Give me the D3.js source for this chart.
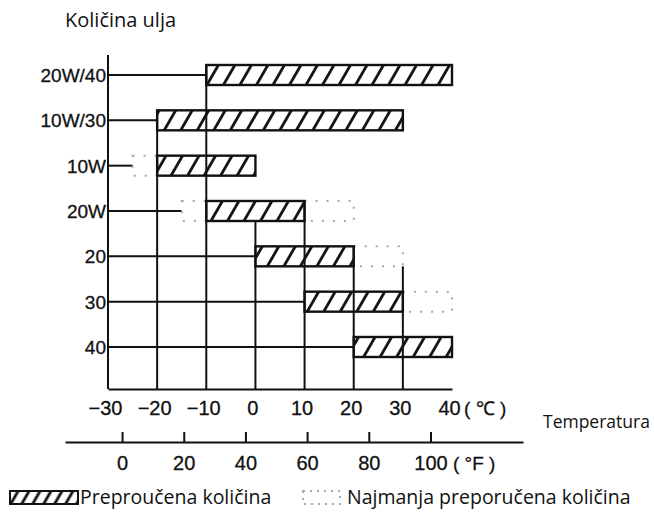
<!DOCTYPE html>
<html>
<head>
<meta charset="utf-8">
<script src="https://cdn.jsdelivr.net/npm/d3@7"></script>
<style>
  body { margin: 0; background: #fff; }
  svg { display: block; }
  .lbl { font-family: "Liberation Sans", Arial, sans-serif; fill: #111; stroke: #111; stroke-width: 0.3px; }
  .num { font-family: "Liberation Sans Narrow", "Liberation Sans", Arial, sans-serif; font-stretch: condensed; fill: #111; stroke: #111; stroke-width: 0.3px; }
  .txt { font-family: "Open Sans", "Noto Sans", sans-serif; fill: #111; }
</style>
</head>
<body>
<svg id="chart" width="654" height="512"></svg>
<script>
// oil grades, top to bottom
var rows = ["20W/40", "10W/30", "10W", "20W", "20", "30", "40"];
// recommended range (hatched), °C
var recFrom = [-10, -20, -20, -10, 0, 10, 20];
var recTo = [40, 30, 0, 10, 20, 30, 40];
// minimum recommended extension (dotted), °C
var minLow = [null, null, -25, -15, null, null, null];
var minHigh = [null, null, null, 20, 30, 40, null];

var celsiusTicks = [-30, -20, -10, 0, 10, 20, 30, 40];
var fahrenheitTicks = [0, 20, 40, 60, 80, 100];

// vertical grid lines and the bar each one rises to
var gridTemps = [-20, -10, 0, 10, 20, 30];
var gridTopRow = ["10W/30", "20W/40", "20W", "20W", "20", "20"];
var gridTopEdge = ["top", "top", "bottom", "top", "top", "bottom"];

var svg = d3.select("#chart");
var barH = 20;
var ink = "#111";

var x = d3.scaleLinear().domain([-30, 40]).range([108, 452]);
var y = d3.scalePoint().domain(rows).range([75, 347]);
var xF = d3.scaleLinear().domain([-18.5, 130]).range([65, 523]);
var axisY = 389;

var defs = svg.append("defs");
function hatch(id, w) {
    defs.append("pattern")
        .attr("id", id)
        .attr("patternUnits", "userSpaceOnUse")
        .attr("width", w)
        .attr("height", 40)
        .attr("patternTransform", "rotate(30)")
        .append("line")
        .attr("x1", w / 2).attr("x2", w / 2)
        .attr("y1", 0).attr("y2", 40)
        .attr("stroke", ink)
        .attr("stroke-width", 2.8);
}
hatch("hatch", 14.3);
hatch("hatchSmall", 9.5);

var data = rows.map(function (r, i) {
    return { row: r, from: recFrom[i], to: recTo[i], low: minLow[i], high: minHigh[i] };
});

// title
svg.append("text")
    .attr("class", "txt")
    .attr("x", 65).attr("y", 27)
    .style("font-size", "20px")
    .text("Količina ulja");

// y axis
svg.append("line")
    .attr("x1", x(-30)).attr("x2", x(-30))
    .attr("y1", 55).attr("y2", axisY)
    .attr("stroke", ink).attr("stroke-width", 2);

// vertical grid lines
gridTemps.forEach(function (t, i) {
    var top = y(gridTopRow[i]) + (gridTopEdge[i] === "top" ? -barH / 2 : barH / 2);
    svg.append("line")
        .attr("x1", x(t)).attr("x2", x(t))
        .attr("y1", top).attr("y2", axisY)
        .attr("stroke", ink).attr("stroke-width", 2);
});

// row lines from the axis to where each grade starts
svg.append("g")
    .selectAll("line")
    .data(data)
    .enter().append("line")
    .attr("x1", x(-30))
    .attr("x2", function (d) { return x(d.low != null ? d.low : d.from); })
    .attr("y1", function (d) { return y(d.row); })
    .attr("y2", function (d) { return y(d.row); })
    .attr("stroke", ink).attr("stroke-width", 2);

// dotted minimum ranges
var dotted = [];
data.forEach(function (d) {
    if (d.low != null) dotted.push({ row: d.row, a: d.low, b: d.from });
    if (d.high != null) dotted.push({ row: d.row, a: d.to, b: d.high });
});
svg.append("g")
    .selectAll("rect")
    .data(dotted)
    .enter().append("rect")
    .attr("x", function (d) { return x(d.a); })
    .attr("y", function (d) { return y(d.row) - barH / 2; })
    .attr("width", function (d) { return x(d.b) - x(d.a); })
    .attr("height", barH)
    .attr("fill", "none")
    .attr("stroke", "#a8a8a8")
    .attr("stroke-width", 2)
    .attr("stroke-dasharray", "2,9");

// hatched recommended ranges
svg.append("g")
    .selectAll("rect")
    .data(data)
    .enter().append("rect")
    .attr("x", function (d) { return x(d.from); })
    .attr("y", function (d) { return y(d.row) - barH / 2; })
    .attr("width", function (d) { return x(d.to) - x(d.from); })
    .attr("height", barH)
    .attr("fill", "url(#hatch)")
    .attr("stroke", ink)
    .attr("stroke-width", 2.4);

// row labels
svg.append("g")
    .selectAll("text")
    .data(rows)
    .enter().append("text")
    .attr("class", "lbl")
    .attr("x", 106)
    .attr("y", function (d) { return y(d); })
    .attr("dy", "0.36em")
    .attr("text-anchor", "end")
    .style("font-size", "19px")
    .text(function (d) { return d; });

// celsius axis
var gC = svg.append("g")
    .attr("transform", "translate(0," + axisY + ")")
    .call(d3.axisBottom(x)
        .tickValues(celsiusTicks)
        .tickSize(0)
        .tickPadding(12)
        .tickFormat(function (d) { return d < 0 ? "\u2212" + Math.abs(d) : d; }));
gC.select(".domain").attr("stroke", ink).attr("stroke-width", 2);
gC.selectAll("text")
    .attr("class", "num")
    .attr("dx", -3)
    .style("font-size", "20px");
svg.append("text")
    .attr("class", "num")
    .attr("x", 464).attr("y", 415)
    .style("font-size", "19px")
    .text("( \u2103 )");

svg.append("text")
    .attr("class", "txt")
    .attr("x", 543).attr("y", 428)
    .style("font-size", "17.5px")
    .text("Temperatura");

// fahrenheit axis
var fY = 442;
var gF = svg.append("g")
    .attr("transform", "translate(0," + fY + ")")
    .call(d3.axisBottom(xF)
        .tickValues(fahrenheitTicks)
        .tickSizeInner(-10)
        .tickSizeOuter(0)
        .tickPadding(14));
gF.select(".domain").attr("stroke", ink).attr("stroke-width", 2);
gF.selectAll(".tick line").attr("stroke", ink).attr("stroke-width", 2);
gF.selectAll("text")
    .attr("class", "num")
    .style("font-size", "20px");
svg.append("text")
    .attr("class", "num")
    .attr("x", 453).attr("y", 470)
    .style("font-size", "19px")
    .text("( \u00B0F  )");

// legend
var legY = 491;
svg.append("rect")
    .attr("x", 10).attr("y", legY)
    .attr("width", 68).attr("height", 13)
    .attr("fill", "url(#hatchSmall)")
    .attr("stroke", ink).attr("stroke-width", 2);
svg.append("text")
    .attr("class", "txt")
    .attr("x", 80).attr("y", legY + 13)
    .style("font-size", "19.5px")
    .text("Preproučena količina");
svg.append("rect")
    .attr("x", 303).attr("y", legY)
    .attr("width", 37).attr("height", 13)
    .attr("fill", "none")
    .attr("stroke", "#aaa").attr("stroke-width", 2)
    .attr("stroke-dasharray", "2,5");
svg.append("text")
    .attr("class", "txt")
    .attr("x", 347).attr("y", legY + 13)
    .style("font-size", "19.5px")
    .text("Najmanja preporučena količina");
</script>
</body>
</html>
